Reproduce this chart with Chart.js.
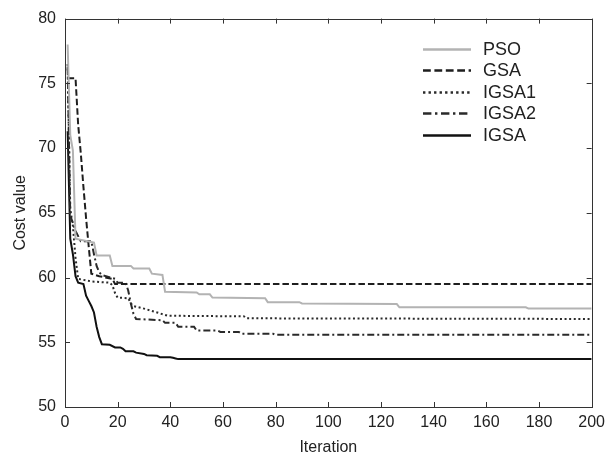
<!DOCTYPE html>
<html>
<head>
<meta charset="utf-8">
<script src="https://cdn.jsdelivr.net/npm/chart.js@4.4.1/dist/chart.umd.min.js"></script>
<style>
  html, body { margin: 0; padding: 0; background: #fff; }
  #wrap { width: 611px; height: 459px; }
</style>
</head>
<body>
<div id="wrap"><canvas id="c" width="611" height="459"></canvas></div>
<script>
// ---- data ----
const seriesNames = ["PSO", "GSA", "IGSA1", "IGSA2", "IGSA"];

const iterPSO = [1, 2, 3, 4, 11, 12, 17, 18, 25, 26, 32, 33, 37, 38, 50, 51, 55, 56, 76, 77, 89, 90, 126, 127, 175, 176, 200];
const costPSO = [78.0, 71.0, 69.8, 63.0, 62.7, 61.7, 61.7, 60.9, 60.9, 60.7, 60.7, 60.3, 60.2, 58.9, 58.85, 58.7, 58.7, 58.45, 58.4, 58.1, 58.1, 58.0, 57.95, 57.7, 57.7, 57.6, 57.6];

const iterGSA = [1, 4, 5, 6, 7, 8, 9, 10, 13, 18, 19, 200];
const costGSA = [75.4, 75.4, 71.8, 69.6, 67.0, 64.6, 62.4, 60.3, 60.1, 59.9, 59.5, 59.5];

const iterIGSA1 = [1, 2, 3, 4, 5, 10, 17, 18, 19, 20, 24, 25, 26, 30, 35, 39, 68, 69, 200];
const costIGSA1 = [76.5, 65.3, 64.0, 61.5, 59.9, 59.7, 59.6, 59.4, 58.8, 58.45, 58.4, 58.0, 57.8, 57.6, 57.3, 57.05, 57.0, 56.85, 56.8];

const iterIGSA2 = [1, 2, 3, 4, 5, 6, 10, 11, 12, 13, 14, 19, 20, 23, 24, 25, 26, 27, 37, 38, 42, 43, 49, 50, 58, 59, 66, 67, 79, 80, 200];
const costIGSA2 = [76.3, 64.8, 64.2, 63.6, 63.2, 62.8, 62.8, 61.8, 60.9, 60.4, 60.2, 59.9, 59.6, 59.6, 59.0, 58.0, 57.2, 56.8, 56.7, 56.5, 56.5, 56.2, 56.2, 55.9, 55.9, 55.8, 55.8, 55.65, 55.65, 55.58, 55.58];

const iterIGSA = [1, 2, 3, 4, 5, 7, 8, 9, 10, 11, 12, 13, 14, 17, 19, 21, 22, 23, 26, 27, 30, 31, 35, 36, 40, 41, 42, 43, 200];
const costIGSA = [71.3, 63.0, 61.8, 60.1, 59.6, 59.5, 58.6, 58.2, 57.8, 57.3, 56.2, 55.4, 54.85, 54.8, 54.6, 54.6, 54.5, 54.3, 54.3, 54.2, 54.1, 54.0, 53.95, 53.85, 53.85, 53.8, 53.75, 53.7, 53.7];

const xTicks = [0, 20, 40, 60, 80, 100, 120, 140, 160, 180, 200];
const yTicks = [50, 55, 60, 65, 70, 75, 80];
const xTitle = "Iteration";
const yTitle = "Cost value";

// ---- build ----
function pts(xs, ys) { return xs.map((x, i) => ({ x: x, y: ys[i] })); }

const styles = [
  { color: "#b3b3b3", dash: [] },
  { color: "#1e1e1e", dash: [6.5, 3] },
  { color: "#2a2a2a", dash: [2, 2.6] },
  { color: "#2a2a2a", dash: [7, 3, 2, 3] },
  { color: "#111111", dash: [] }
];
const allData = [
  pts(iterPSO, costPSO), pts(iterGSA, costGSA), pts(iterIGSA1, costIGSA1),
  pts(iterIGSA2, costIGSA2), pts(iterIGSA, costIGSA)
];

const datasets = seriesNames.map((n, i) => ({
  label: n,
  data: allData[i],
  borderColor: styles[i].color,
  borderDash: styles[i].dash,
  borderWidth: 2,
  pointRadius: 0,
  fill: false,
  tension: 0,
  borderCapStyle: 'butt',
  borderJoinStyle: 'miter'
}));

const FONT = "'Liberation Sans', Arial, sans-serif";

const framePlugin = {
  id: 'frame',
  afterDatasetsDraw(chart) {
    const ctx = chart.ctx;
    const a = chart.chartArea;
    const xs = chart.scales.x, ys = chart.scales.y;
    ctx.save();
    ctx.strokeStyle = "#333";
    ctx.lineWidth = 1;
    ctx.setLineDash([]);
    ctx.strokeRect(Math.round(a.left) + 0.5, Math.round(a.top) + 0.5, Math.round(a.right - a.left), Math.round(a.bottom - a.top));
    const tl = 5;
    ctx.beginPath();
    xTicks.forEach(v => {
      const p = Math.round(xs.getPixelForValue(v)) + 0.5;
      ctx.moveTo(p, a.bottom); ctx.lineTo(p, a.bottom - tl);
      ctx.moveTo(p, a.top); ctx.lineTo(p, a.top + tl);
    });
    yTicks.forEach(v => {
      const p = Math.round(ys.getPixelForValue(v)) + 0.5;
      ctx.moveTo(a.left, p); ctx.lineTo(a.left + tl, p);
      ctx.moveTo(a.right, p); ctx.lineTo(a.right - tl, p);
    });
    ctx.stroke();

    // legend
    const lx = a.left + 358, ly = a.top + 30, step = 21.6, len = 48;
    ctx.font = "18px " + FONT;
    ctx.textBaseline = "middle";
    ctx.textAlign = "left";
    chart.data.datasets.forEach((d, i) => {
      const y = Math.round(ly + i * step) + 0.5;
      ctx.beginPath();
      ctx.strokeStyle = d.borderColor;
      ctx.lineWidth = 2.5;
      ctx.setLineDash(d.borderDash.length ? d.borderDash.map(v => v * 1.2) : []);
      ctx.moveTo(lx, y); ctx.lineTo(lx + len, y);
      ctx.stroke();
      ctx.setLineDash([]);
      ctx.fillStyle = "#222";
      ctx.fillText(d.label, lx + len + 12, y + 1);
    });
    ctx.restore();
  }
};

new Chart(document.getElementById('c'), {
  type: 'line',
  data: { datasets: datasets },
  options: {
    responsive: false,
    animation: false,
    devicePixelRatio: 1,
    layout: { padding: { left: 0, right: 14, top: 14, bottom: 0 } },
    plugins: { legend: { display: false }, tooltip: { enabled: false } },
    scales: {
      x: {
        type: 'linear', min: 0, max: 200,
        afterBuildTicks: s => { s.ticks = xTicks.map(v => ({ value: v })); },
        afterFit: s => { s.height = 52; },
        grid: { display: false, drawTicks: false },
        border: { display: false },
        ticks: { color: "#222", font: { family: FONT, size: 16 }, padding: 6, maxRotation: 0 },
        title: { display: true, text: xTitle, color: "#222", font: { family: FONT, size: 16 }, padding: { top: 0, bottom: 2 } }
      },
      y: {
        type: 'linear', min: 50, max: 80,
        afterBuildTicks: s => { s.ticks = yTicks.map(v => ({ value: v })); },
        afterFit: s => { s.width = 65; },
        grid: { display: false, drawTicks: false },
        border: { display: false },
        ticks: { color: "#222", font: { family: FONT, size: 16 }, padding: 9 },
        title: { display: true, text: yTitle, color: "#222", font: { family: FONT, size: 16 }, padding: { top: 11, bottom: 0 } }
      }
    }
  },
  plugins: [framePlugin]
});
</script>
</body>
</html>
